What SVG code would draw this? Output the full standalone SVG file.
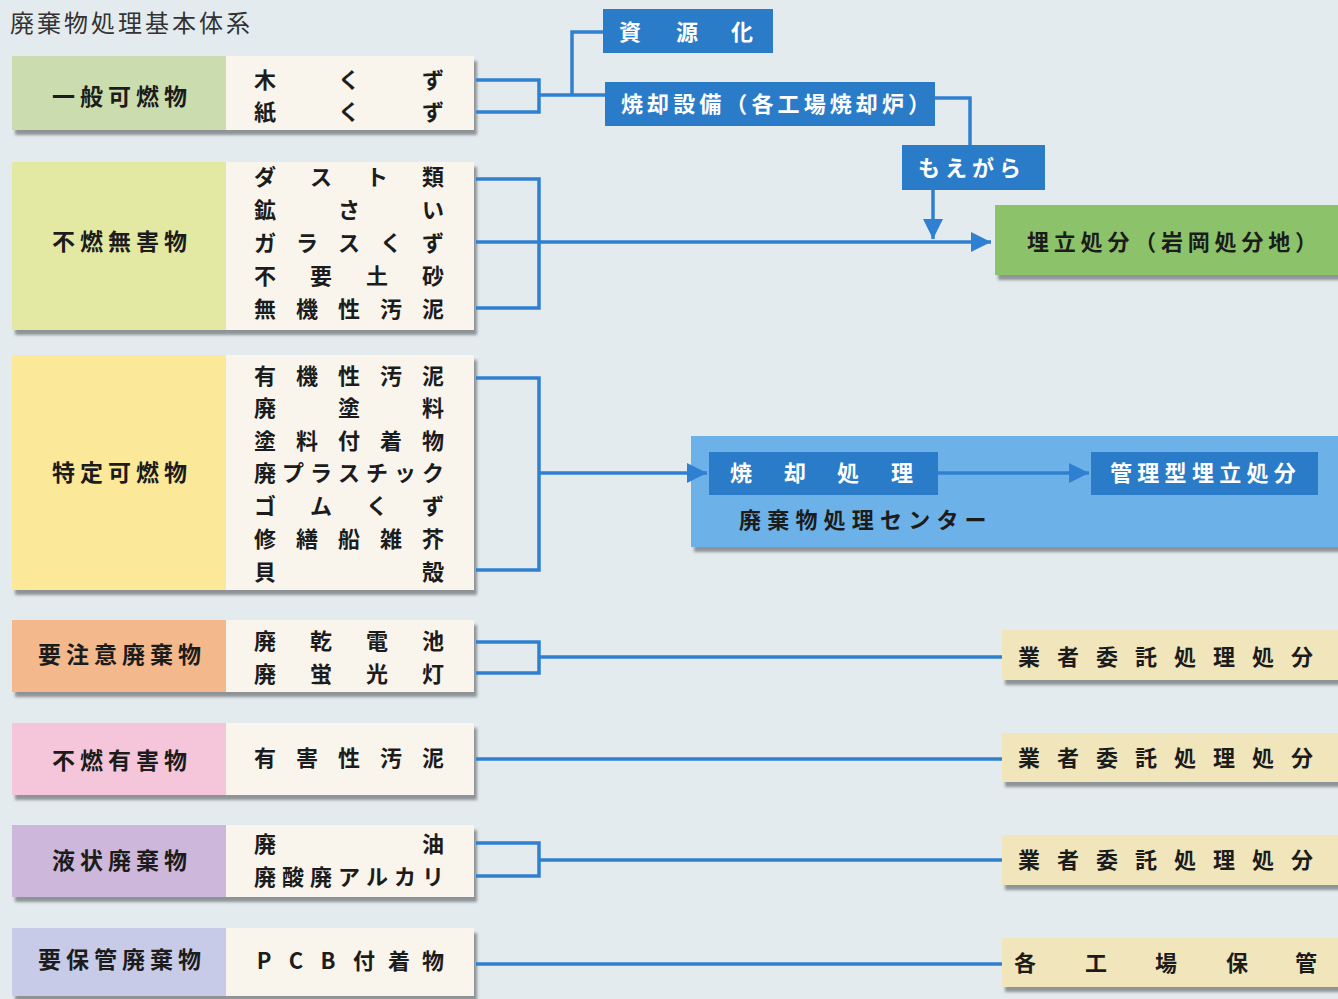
<svg xmlns="http://www.w3.org/2000/svg" width="1338" height="999" viewBox="0 0 1338 999">
<defs>
<filter id="sh" x="-5%" y="-10%" width="115%" height="130%">
<feDropShadow dx="3" dy="5" stdDeviation="1.5" flood-color="#6f7478" flood-opacity="0.75"/>
</filter>
<marker id="ah" viewBox="0 0 10 10" refX="10" refY="5" markerWidth="22" markerHeight="20" markerUnits="userSpaceOnUse" orient="auto">
<path d="M0,0 L10,5 L0,10 z" fill="#2f80d1"/>
</marker>
<style>
.t{font-family:"Noto Sans CJK JP","Noto Sans CJK SC",sans-serif;font-weight:bold;font-size:22px;fill:#1c1c1c}
.c{text-anchor:middle}
.w{fill:#ffffff}
.lb{font-size:23px;letter-spacing:5px;text-anchor:middle}
.item{fill:#f9f5ec}
.dk{fill:#2a7cc9}
.rb{fill:#f1e6bb}
.ln{fill:none;stroke:#2f80d1;stroke-width:3.5}
</style>
</defs>
<rect width="1338" height="999" fill="#e4ebee"/>
<text x="10" y="32" font-family="Noto Sans CJK JP, sans-serif" font-size="24" letter-spacing="3" fill="#333">廃棄物処理基本体系</text>

<g id="n-ippan">
<g filter="url(#sh)"><rect x="12" y="56" width="462" height="74" class="item"/><rect x="12" y="56" width="214" height="74" fill="#cbdcae"/></g>
<text class="t lb" x="122" y="105">一般可燃物</text>
<text class="t c" x="265 349 433" y="88">木くず</text>
<text class="t c" x="265 349 433" y="120">紙くず</text>
</g>

<g id="n-funen-mugai">
<g filter="url(#sh)"><rect x="12" y="162" width="462" height="168" class="item"/><rect x="12" y="162" width="214" height="168" fill="#e3e9a2"/></g>
<text class="t lb" x="122" y="250">不燃無害物</text>
<text class="t c" x="265 321 377 433" y="185">ダスト類</text>
<text class="t c" x="265 349 433" y="218">鉱さい</text>
<text class="t c" x="265 307 349 391 433" y="251">ガラスくず</text>
<text class="t c" x="265 321 377 433" y="284">不要土砂</text>
<text class="t c" x="265 307 349 391 433" y="317">無機性汚泥</text>
</g>

<g id="n-tokutei">
<g filter="url(#sh)"><rect x="12" y="355" width="462" height="235" class="item"/><rect x="12" y="355" width="214" height="235" fill="#fbe899"/></g>
<text class="t lb" x="122" y="481">特定可燃物</text>
<text class="t c" x="265 307 349 391 433" y="384">有機性汚泥</text>
<text class="t c" x="265 349 433" y="416">廃塗料</text>
<text class="t c" x="265 307 349 391 433" y="449">塗料付着物</text>
<text class="t c" x="265 293 321 349 377 405 433" y="481">廃プラスチック</text>
<text class="t c" x="265 321 377 433" y="514">ゴムくず</text>
<text class="t c" x="265 307 349 391 433" y="547">修繕船雑芥</text>
<text class="t c" x="265 433" y="580">貝殻</text>
</g>

<g id="n-youchui">
<g filter="url(#sh)"><rect x="12" y="620" width="462" height="72" class="item"/><rect x="12" y="620" width="214" height="72" fill="#f3b98c"/></g>
<text class="t lb" x="122" y="663">要注意廃棄物</text>
<text class="t c" x="265 321 377 433" y="649">廃乾電池</text>
<text class="t c" x="265 321 377 433" y="682">廃蛍光灯</text>
</g>

<g id="n-funen-yugai">
<g filter="url(#sh)"><rect x="12" y="723" width="462" height="72" class="item"/><rect x="12" y="723" width="214" height="72" fill="#f5c6d9"/></g>
<text class="t lb" x="122" y="769">不燃有害物</text>
<text class="t c" x="265 307 349 391 433" y="766">有害性汚泥</text>
</g>

<g id="n-ekijo">
<g filter="url(#sh)"><rect x="12" y="825" width="462" height="72" class="item"/><rect x="12" y="825" width="214" height="72" fill="#cdb7db"/></g>
<text class="t lb" x="122" y="869">液状廃棄物</text>
<text class="t c" x="265 433" y="852">廃油</text>
<text class="t c" x="265 293 321 349 377 405 433" y="885">廃酸廃アルカリ</text>
</g>

<g id="n-yohokan">
<g filter="url(#sh)"><rect x="12" y="928" width="462" height="68" class="item"/><rect x="12" y="928" width="214" height="68" fill="#c8cbe7"/></g>
<text class="t lb" x="122" y="968">要保管廃棄物</text>
<text class="t c" x="264 296 328 364 399 433" y="969">PCB付着物</text>
</g>

<g id="n-shigenka">
<rect x="603" y="9" width="170" height="44" class="dk"/>
<text class="t c w" x="630 687 742" y="40">資源化</text>
</g>

<g id="n-shokyaku-setsubi">
<rect x="605" y="82" width="330" height="44" class="dk"/>
<text class="t w" x="621" y="112" textLength="309" lengthAdjust="spacing">焼却設備（各工場焼却炉）</text>
</g>

<g id="n-moegara">
<rect x="902" y="145" width="143" height="45" class="dk"/>
<text class="t w" x="918" y="176" letter-spacing="5">もえがら</text>
</g>

<g id="n-umetate">
<rect x="995" y="205" width="343" height="70" fill="#8cc36a" filter="url(#sh)"/>
<text class="t" x="1027" y="250" textLength="290" lengthAdjust="spacing">埋立処分（岩岡処分地）</text>
</g>

<g id="n-center">
<rect x="691" y="436" width="647" height="111" fill="#6cb2e8" filter="url(#sh)"/>
<text class="t" x="739" y="528" letter-spacing="6.2">廃棄物処理センター</text>
</g>

<g id="n-shokyaku-shori">
<rect x="709" y="452" width="229" height="43" class="dk"/>
<text class="t c w" x="741 795 848 902" y="481">焼却処理</text>
</g>

<g id="n-kanrigata">
<rect x="1091" y="452" width="227" height="43" class="dk"/>
<text class="t w" x="1110" y="481" letter-spacing="5.3">管理型埋立処分</text>
</g>

<g id="n-gyosha1">
<rect x="1002" y="630" width="336" height="50" class="rb" filter="url(#sh)"/>
<text class="t c" x="1029 1068 1107 1146 1185 1224 1263 1302" y="665">業者委託処理処分</text>
</g>
<g id="n-gyosha2">
<rect x="1002" y="733" width="336" height="49" class="rb" filter="url(#sh)"/>
<text class="t c" x="1029 1068 1107 1146 1185 1224 1263 1302" y="766">業者委託処理処分</text>
</g>
<g id="n-gyosha3">
<rect x="1002" y="835" width="336" height="50" class="rb" filter="url(#sh)"/>
<text class="t c" x="1029 1068 1107 1146 1185 1224 1263 1302" y="868">業者委託処理処分</text>
</g>
<g id="n-hokan">
<rect x="1002" y="938" width="336" height="49" class="rb" filter="url(#sh)"/>
<text class="t c" x="1025 1096 1166 1237 1306" y="971">各工場保管</text>
</g>

<g id="connectors">
<polyline class="ln" points="476,80 539,80 539,112 476,112"/>
<polyline class="ln" points="539,95 605,95"/>
<polyline class="ln" points="572,95 572,32 603,32"/>
<polyline class="ln" points="935,98 970,98 970,145"/>
<line class="ln" x1="933" y1="190" x2="933" y2="239" marker-end="url(#ah)"/>
<polyline class="ln" points="476,179 539,179 539,308 476,308"/>
<line class="ln" x1="476" y1="242" x2="991" y2="242" marker-end="url(#ah)"/>
<polyline class="ln" points="476,378 539,378 539,570 476,570"/>
<line class="ln" x1="539" y1="473" x2="707" y2="473" marker-end="url(#ah)"/>
<line class="ln" x1="938" y1="473" x2="1089" y2="473" marker-end="url(#ah)"/>
<polyline class="ln" points="476,642 539,642 539,673 476,673"/>
<line class="ln" x1="539" y1="657" x2="1002" y2="657"/>
<line class="ln" x1="476" y1="759" x2="1002" y2="759"/>
<polyline class="ln" points="476,843 539,843 539,876 476,876"/>
<line class="ln" x1="539" y1="860" x2="1002" y2="860"/>
<line class="ln" x1="476" y1="964" x2="1002" y2="964"/>
</g>
</svg>
